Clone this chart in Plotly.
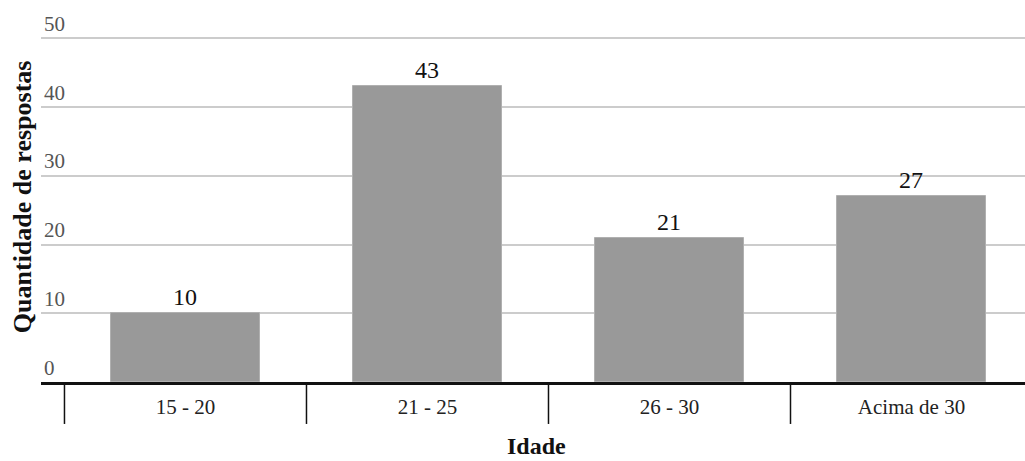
import plotly.graph_objects as go

# Age groups and number of answers
faixas = ["15 - 20", "21 - 25", "26 - 30", "Acima de 30"]
respostas = [10, 43, 21, 27]
y_ticks = [0, 10, 20, 30, 40, 50]

SERIF = "Liberation Serif, Times New Roman, serif"

fig = go.Figure(
    go.Bar(
        x=list(range(len(faixas))),
        y=respostas,
        width=0.616,
        marker=dict(color="#999999", line=dict(color="#b0b0b0", width=1)),
        text=[str(v) for v in respostas],
        textposition="outside",
        textfont=dict(family=SERIF, size=24, color="#111111"),
        cliponaxis=False,
        hoverinfo="skip",
    )
)

# Vertical separators between the age groups, hanging below the axis line
shapes = []
for b in [-0.5, 0.5, 1.5, 2.5]:
    shapes.append(dict(type="line", xref="x", yref="y domain",
                       x0=b, x1=b, y0=0, y1=-0.111,
                       line=dict(color="#111111", width=1.5)))

fig.update_layout(
    width=1025, height=461,
    margin=dict(l=41, r=0, t=4, b=79),
    paper_bgcolor="white", plot_bgcolor="white",
    showlegend=False,
    bargap=0,
    shapes=shapes,
    xaxis=dict(
        range=[-0.597, 3.469],
        tickmode="array",
        tickvals=list(range(len(faixas))),
        ticktext=faixas,
        ticks="",
        showgrid=False,
        zeroline=False,
        showline=True, linecolor="#111111", linewidth=3,
        tickfont=dict(family=SERIF, size=21, color="#222222"),
        ticklabelstandoff=4,
        fixedrange=True,
    ),
    yaxis=dict(
        range=[0, 55],
        tickmode="array",
        tickvals=y_ticks,
        ticktext=[str(v) for v in y_ticks],
        ticklabelposition="inside top",
        tickfont=dict(family=SERIF, size=21, color="#555555"),
        showgrid=True, gridcolor="#cccccc", gridwidth=1.5,
        zeroline=False,
        showline=False,
        ticks="",
        fixedrange=True,
    ),
    annotations=[
        dict(text="<b>Quantidade de respostas</b>", textangle=-90,
             xref="paper", yref="paper", x=0, y=0.489,
             xanchor="center", yanchor="middle", xshift=-19,
             showarrow=False, font=dict(family=SERIF, size=26, color="#111111")),
        dict(text="<b>Idade</b>",
             xref="paper", yref="paper", x=0.504, y=-0.169,
             xanchor="center", yanchor="middle",
             showarrow=False, font=dict(family=SERIF, size=24, color="#111111")),
    ],
)

fig.write_html("out.html")
